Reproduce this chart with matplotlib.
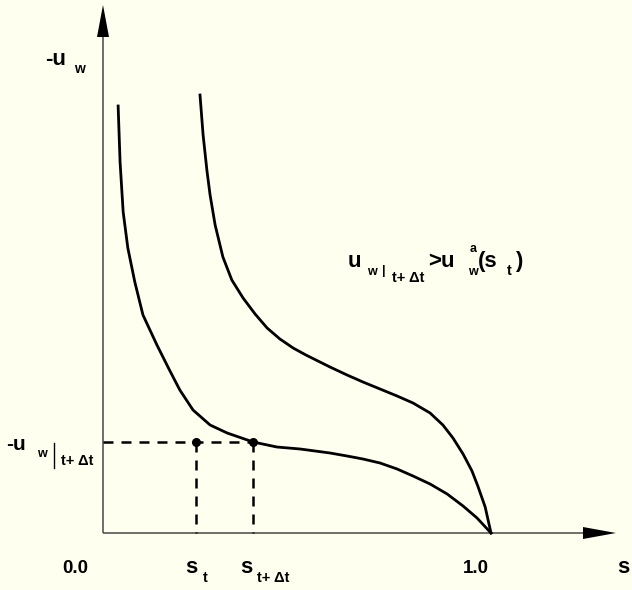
import matplotlib
matplotlib.use("Agg")
import matplotlib.pyplot as plt
from matplotlib.lines import Line2D

# sketch of two retention curves, s on x, -u_w on y (arbitrary units)
s_lower = [0.039, 0.044, 0.052, 0.064, 0.082, 0.103, 0.139, 0.170, 0.198, 0.232,
           0.276, 0.320, 0.387, 0.448, 0.508, 0.585, 0.629, 0.670, 0.714, 0.758,
           0.799, 0.843, 0.887, 0.928, 0.964, 1.000]
u_lower = [4.27, 3.71, 3.21, 2.85, 2.51, 2.18, 1.88, 1.64, 1.43, 1.23,
           1.08, 1.00, 0.91, 0.86, 0.84, 0.80, 0.77, 0.74, 0.70, 0.64,
           0.57, 0.49, 0.39, 0.27, 0.15, 0.00]

s_upper = [0.250, 0.258, 0.268, 0.276, 0.289, 0.309, 0.332, 0.361, 0.392, 0.423,
           0.456, 0.490, 0.523, 0.554, 0.585, 0.629, 0.670, 0.714, 0.758, 0.799,
           0.843, 0.876, 0.902, 0.928, 0.951, 0.966, 0.985, 1.000]
u_upper = [4.38, 3.98, 3.62, 3.38, 3.08, 2.76, 2.53, 2.35, 2.19, 2.05,
           1.94, 1.85, 1.78, 1.72, 1.66, 1.58, 1.51, 1.44, 1.37, 1.30,
           1.20, 1.08, 0.95, 0.79, 0.62, 0.47, 0.26, 0.00]

s_t = 0.240
s_tdt = 0.387
u_level = 0.91

W, H = 632, 590
PX_S = 388.0   # pixels per unit of s
PX_U = 100.0   # pixels per unit of -u_w
X0, Y0 = 103, 533  # pixel position of the origin (from top-left)

bg = "#fffff0"
fig = plt.figure(figsize=(W / 100, H / 100), dpi=100, facecolor=bg)
ax = fig.add_axes([0, 0, 1, 1])
ax.set_facecolor(bg)
ax.set_xlim(-X0 / PX_S, (W - X0) / PX_S)
ax.set_ylim(-(H - Y0) / PX_U, Y0 / PX_U)
ax.axis("off")

# axes with arrow heads
x_head = (583 - X0) / PX_S
x_tip = (616 - X0) / PX_S
y_head = (Y0 - 37) / PX_U
y_tip = (Y0 - 5) / PX_U
hw_y = 6 / PX_U
hw_x = 6 / PX_S
ax.plot([0, x_head], [0, 0], color="#555555", lw=1.2, solid_capstyle="butt")
ax.plot([0, 0], [0, y_head], color="#555555", lw=1.2, solid_capstyle="butt")
ax.fill([x_head, x_tip, x_head], [-hw_y, 0, hw_y], color="black", lw=0)
ax.fill([-hw_x, 0, hw_x], [y_head, y_tip, y_head], color="black", lw=0)

# curves
ax.plot(s_lower, u_lower, color="black", lw=2.0, solid_joinstyle="round")
ax.plot(s_upper, u_upper, color="black", lw=2.0, solid_joinstyle="round")

# dashed guides
dash = (0, (4.0, 3.2))
ax.plot([0, s_tdt], [u_level, u_level], color="black", lw=1.8, linestyle=dash)
ax.plot([s_t, s_t], [u_level, 0], color="black", lw=1.8, linestyle=dash)
ax.plot([s_tdt, s_tdt], [u_level, 0], color="black", lw=1.8, linestyle=dash)
ax.plot([s_t, s_tdt], [u_level, u_level], "o", color="black", ms=5.5)

FONT = "Liberation Sans"


def put(px, py, txt, size):
    fig.text(px / W, 1 - py / H, txt, fontsize=size, fontweight="bold",
             family=FONT, ha="left", va="baseline")


big, sub, tiny = 16, 10.5, 9

# y-axis label
put(45, 65, "-u", big)
put(74, 73, "w", 10)

# level on y axis
put(6, 450, "-u", 15)
put(37, 457, "w", tiny)
fig.add_artist(Line2D([54 / W, 54 / W], [1 - 443 / H, 1 - 468 / H], color="black", lw=1.0))
put(61, 465, "t+ \u0394t", sub)

# x-axis labels
put(62, 573, "0.0", 13.5)
put(463, 573, "1.0", 13.5)
put(617, 573, "s", big)
put(185, 573, "s", big)
put(203, 582, "t", sub)
put(240, 573, "s", big)
put(257, 582, "t+ \u0394t", sub)

# annotation
put(348, 267, "u", big)
put(367, 275, "w", tiny)
put(382, 274, "|", tiny)
put(392, 282, "t+ \u0394t", sub)
put(428, 267, ">u", big)
put(470, 252, "a", tiny)
put(468, 275, "w", tiny)
put(478, 267, "(s", big)
put(507, 275, "t", sub)
put(515, 267, ")", big)

fig.savefig("out.png", dpi=100, facecolor=bg)
